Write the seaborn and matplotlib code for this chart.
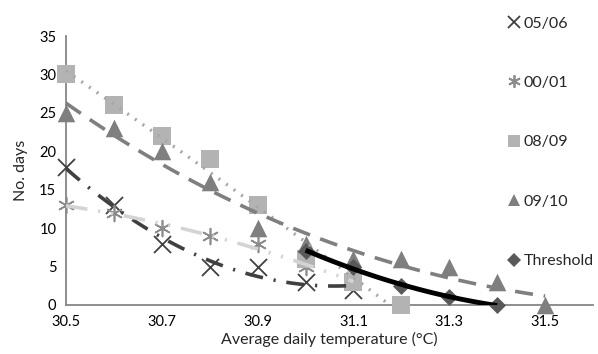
import numpy as np
import pandas as pd
import matplotlib
matplotlib.use("Agg")
import matplotlib.pyplot as plt
import seaborn as sns
from matplotlib.lines import Line2D

# ---- data ----
temp_0506 = [30.5, 30.6, 30.7, 30.8, 30.9, 31.0, 31.1]
days_0506 = [18, 13, 8, 5, 5, 3, 2]
temp_0001 = [30.5, 30.6, 30.7, 30.8, 30.9, 31.0, 31.1]
days_0001 = [13, 12, 10, 9, 8, 5, 3]
temp_0809 = [30.5, 30.6, 30.7, 30.8, 30.9, 31.0, 31.1, 31.2]
days_0809 = [30, 26, 22, 19, 13, 6, 3, 0]
temp_0910 = [30.5, 30.6, 30.7, 30.8, 30.9, 31.0, 31.1, 31.2, 31.3, 31.4, 31.5]
days_0910 = [25, 23, 20, 16, 10, 8, 6, 6, 5, 3, 0]
temp_thr = [31.0, 31.1, 31.2, 31.3, 31.4]
days_thr = [7, 5, 2.5, 1, 0]
labels = ["05/06", "00/01", "08/09", "09/10", "Threshold"]
x_ticks = [30.5, 30.7, 30.9, 31.1, 31.3, 31.5]
y_ticks = [0, 5, 10, 15, 20, 25, 30, 35]

sns.set_theme(style="white")
plt.rcParams['font.family'] = ['Lato', 'DejaVu Sans']

fig = plt.figure(figsize=(5.98, 3.54), dpi=100)
ax = fig.add_axes([66/598, 1 - 305/354, (593-66)/598, (305-36)/354])

series = [
    (temp_0506, days_0506, dict(marker='x', s=150, color='#404040', linewidths=1.3),
     dict(color='#404040', lw=2.6, ls=(0, (5, 3, 0.6, 3))), 2),
    (temp_0001, days_0001, dict(marker=(6, 2, 0), s=130, color='#8c8c8c', linewidths=1.2),
     dict(color='#d4d4d4', lw=2.6, ls=(0, (6, 3, 0.6, 3, 0.6, 3))), 2),
    (temp_0809, days_0809, dict(marker='s', s=150, color='#b3b3b3', linewidths=0),
     dict(color='#a6a6a6', lw=2.4, ls=(0, (0.6, 2.2))), 2),
    (temp_0910, days_0910, dict(marker='^', s=160, color='#7f7f7f', linewidths=0),
     dict(color='#7f7f7f', lw=2.6, ls=(0, (5, 3))), 3),
    (temp_thr, days_thr, dict(marker='D', s=75, color='#595959', linewidths=0),
     dict(color='#000000', lw=3.5, ls='-'), 2),
]

for (xs, ys, mk, lk, order), lab in zip(series, labels):
    df = pd.DataFrame({"temp": xs, "days": ys})
    sns.scatterplot(data=df, x="temp", y="days", ax=ax, zorder=3, clip_on=False, **mk)

for (xs, ys, mk, lk, order), lab in zip(series, labels):
    df = pd.DataFrame({"temp": xs, "days": ys})
    z = 5 if lab == "Threshold" else 4
    sns.regplot(data=df, x="temp", y="days", ax=ax, order=order, ci=None,
                scatter=False, truncate=True, line_kws=dict(zorder=z, solid_capstyle='butt', **lk))

ax.set_xlim(30.5, 31.6)
ax.set_ylim(0, 35)
ax.set_xticks(x_ticks)
ax.set_xticklabels([f"{t:.1f}" for t in x_ticks])
ax.set_yticks(y_ticks)
for s in ['top', 'right']:
    ax.spines[s].set_visible(False)
for s in ['left', 'bottom']:
    ax.spines[s].set_color('#868686')
    ax.spines[s].set_linewidth(1.3)
    ax.spines[s].set_zorder(2)
ax.tick_params(axis='both', direction='out', length=4, width=1, color='#868686',
               labelsize=10.5, pad=3)
ax.tick_params(axis='x', colors='#868686', labelcolor='black')
ax.tick_params(axis='y', colors='#868686', labelcolor='black')
ax.set_xlabel("Average daily temperature (°C)", fontsize=11.5, labelpad=2)
ax.set_ylabel("No. days", fontsize=11.5, labelpad=8)

handles = []
for (xs, ys, mk, lk, order), lab in zip(series, labels):
    m = mk['marker']
    handles.append(Line2D([], [], ls='none', marker=m, color=mk['color'],
                          markersize=9 if m != 'D' else 7,
                          markeredgewidth=1.3 if m in ('x',) or isinstance(m, tuple) else 0,
                          label=lab))
fig.legend(handles=handles, loc='upper left', bbox_to_anchor=(500/598, 1 - 10/354),
           frameon=False, fontsize=11.5, labelspacing=2.83, handletextpad=0.1,
           handlelength=1.0, borderaxespad=0)

fig.savefig("out.png", dpi=100)
